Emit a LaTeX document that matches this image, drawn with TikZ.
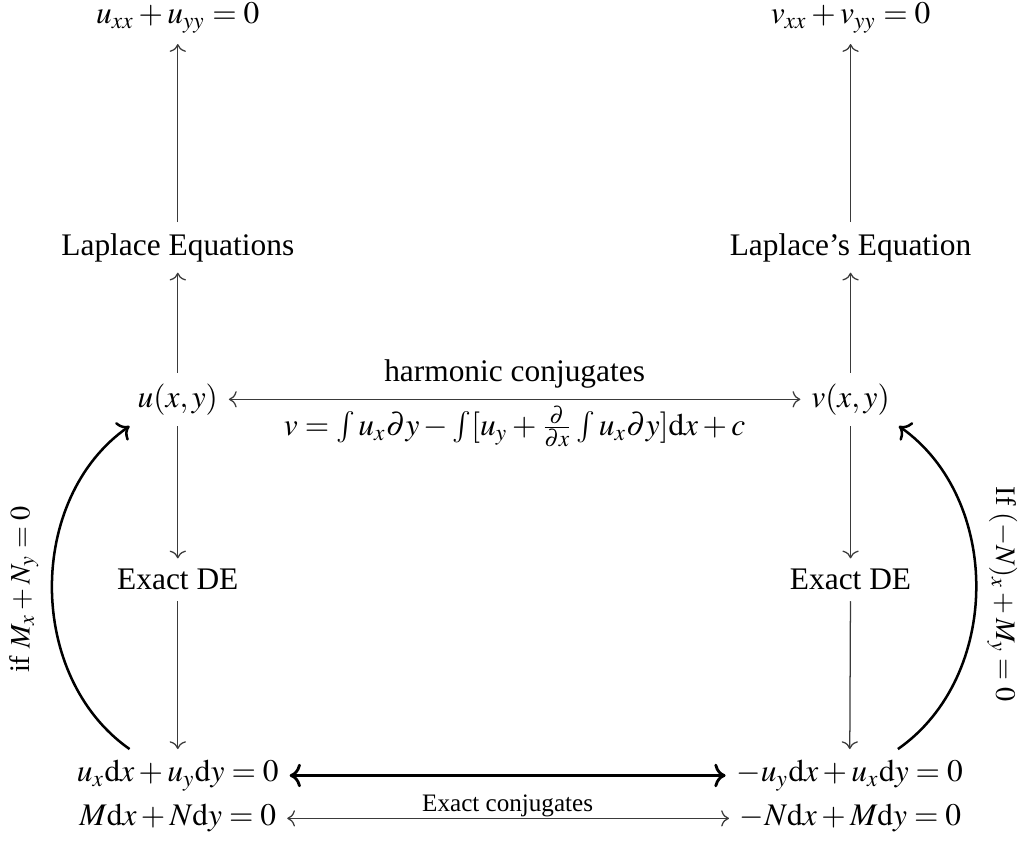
\documentclass[tikz,border=0pt]{standalone}
\usepackage{amsmath}
\usepackage{mathptmx}
\usepackage[no-math]{fontspec}
\setmainfont{Liberation Serif}
\usetikzlibrary{arrows.meta,positioning,calc}
\definecolor{ink}{HTML}{000000}
\definecolor{ink2}{HTML}{3A3A3A}
\tikzset{
  >={Computer Modern Rightarrow},
  eqn/.style={inner sep=3.3pt, text=ink, font=\normalsize},
  arr/.style={->, draw=ink2, line width=0.4pt},
  dbl/.style={<->, draw=ink2, line width=0.4pt},
  bigdbl/.style={<->, draw=ink, line width=0.9pt},
  curvarr/.style={->, draw=ink, line width=0.8pt},
  lbl/.style={font=\normalsize, text=ink, align=center},
  slbl/.style={font=\footnotesize, text=ink, align=center},
  rlbl/.style={font=\small, text=ink, align=center, inner sep=1pt},
}
\begin{document}
\begin{tikzpicture}
  \useasboundingbox (0,0) rectangle (11.45,9.51);
  % ===================== left column =====================
  \node[eqn] (uLap) at (1.99,9.31) {$u_{xx}+u_{yy}=0$};
  \node[eqn] (lapL) at (1.99,6.74) {Laplace Equations};
  \node[eqn] (u)    at (1.99,5.04) {$u(x,y)$};
  \node[eqn] (exL)  at (1.99,3.02) {Exact DE};
  \node[eqn] (dfL)  at (1.99,0.83) {$u_x\mathrm{d}x+u_y\mathrm{d}y=0$};
  \node[eqn] (mnL)  at (1.99,0.35) {$M\mathrm{d}x+N\mathrm{d}y=0$};
  % ===================== right column =====================
  \node[eqn] (vLap) at (9.52,9.31) {$v_{xx}+v_{yy}=0$};
  \node[eqn] (lapR) at (9.52,6.74) {Laplace's Equation};
  \node[eqn] (v)    at (9.52,5.04) {$v(x,y)$};
  \node[eqn] (exR)  at (9.52,3.02) {Exact DE};
  \node[eqn] (dfR)  at (9.51,0.83) {$-u_y\mathrm{d}x+u_x\mathrm{d}y=0$};
  \node[eqn] (mnR)  at (9.52,0.35) {$-N\mathrm{d}x+M\mathrm{d}y=0$};

  % vertical arrows
  \draw[arr] (lapL) -- (uLap);
  \draw[arr] (u) -- (lapL);
  \draw[arr] (u) -- (exL);
  \draw[arr] (exL) -- (dfL);
  \draw[arr] (lapR) -- (vLap);
  \draw[arr] (v) -- (lapR);
  \draw[arr] (v) -- (exR);
  \draw[arr] (exR) -- (dfR);

  % horizontal arrows
  \draw[dbl] (u) -- node[above, lbl] (hc) {harmonic conjugates}
    node[below, lbl, yshift=1.5pt] (vf) {$v=\int u_x\partial y-\int[u_y+\frac{\partial}{\partial x}\int u_x\partial y]\mathrm{d}x+c$} (v);
  \draw[bigdbl] (dfL) -- node[below, slbl, yshift=-2.5pt] (ec) {Exact conjugates} (dfR);
  \draw[dbl] (mnL) -- (mnR);

  % curved arrows
  \coordinate (cl0) at ($(dfL.north)+(-0.54,0)$);
  \coordinate (cl1) at ($(u.south)+(-0.54,0)$);
  \coordinate (cr0) at ($(dfR.north)+(0.54,0)$);
  \coordinate (cr1) at ($(v.south)+(0.54,0)$);
  \draw[curvarr] (cl0) to[bend left=55] (cl1);
  \draw[curvarr] (cr0) to[bend right=55] (cr1);
  \node[rlbl, rotate=90] (condL) at (0.27,2.91) {if $M_x+N_y=0$};
  \node[rlbl, rotate=-90] (condR) at (11.22,2.86) {If $(-N)_x+M_y=0$};
\end{tikzpicture}
\end{document}
